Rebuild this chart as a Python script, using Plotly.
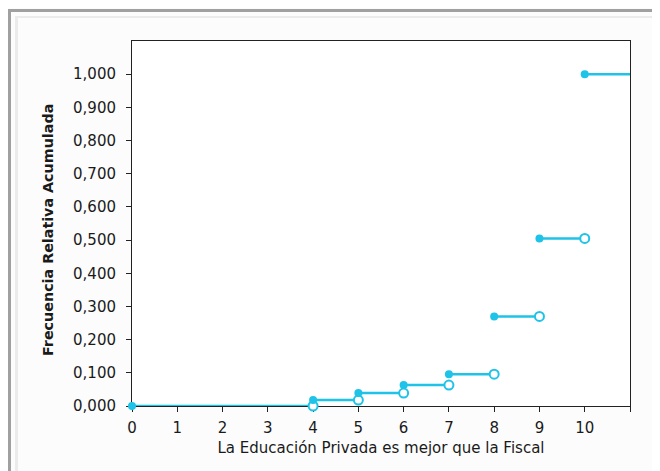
import plotly.graph_objects as go

# ---- data ----
x_values = [0, 4, 5, 6, 7, 8, 9, 10]
cum_freq = [0.000, 0.018, 0.039, 0.063, 0.096, 0.270, 0.505, 1.000]
x_tick_vals = [0, 1, 2, 3, 4, 5, 6, 7, 8, 9, 10, 11]
x_tick_text = ["0", "1", "2", "3", "4", "5", "6", "7", "8", "9", "10", ""]
y_tick_vals = [0.0, 0.1, 0.2, 0.3, 0.4, 0.5, 0.6, 0.7, 0.8, 0.9, 1.0]
x_axis_title = "La Educación Privada es mejor que la Fiscal"
y_axis_title = "Frecuencia Relativa Acumulada"
x_max = 11

CYAN = "#1FC3E7"
FONT = "DejaVu Sans, Verdana, sans-serif"

# step segments
seg_x, seg_y = [], []
ends = x_values[1:] + [x_max]
for x0, x1, y in zip(x_values, ends, cum_freq):
    seg_x += [x0, x1, None]
    seg_y += [y, y, None]

open_x = x_values[1:]
open_y = cum_freq[:-1]

fig = go.Figure()
fig.add_trace(go.Scatter(x=seg_x, y=seg_y, mode="lines",
                         line=dict(color=CYAN, width=2.5),
                         hoverinfo="skip", showlegend=False))
fig.add_trace(go.Scatter(x=open_x, y=open_y, mode="markers",
                         marker=dict(symbol="circle", size=9, color="white",
                                     line=dict(color=CYAN, width=2)),
                         cliponaxis=False, showlegend=False))
fig.add_trace(go.Scatter(x=x_values, y=cum_freq, mode="markers",
                         marker=dict(symbol="circle", size=8, color=CYAN),
                         cliponaxis=False, showlegend=False))

# page has an 8px body margin: the figure starts at (8, 8)
W, H = 652, 463
L, R, T, B = 124, 30, 33, 65
pw, ph = W - L - R, H - T - B

def px(x):
    return (x - L) / pw

def py(y):
    return (H - B - y) / ph

shapes = [
    dict(type="rect", xref="paper", yref="paper", x0=px(0), x1=px(3), y0=py(H), y1=py(1),
         fillcolor="#A0A0A0", line=dict(width=0), layer="below"),
    dict(type="rect", xref="paper", yref="paper", x0=px(0), x1=px(W), y0=py(4), y1=py(1),
         fillcolor="#A0A0A0", line=dict(width=0), layer="below"),
    dict(type="rect", xref="paper", yref="paper", x0=px(7), x1=px(10), y0=py(H), y1=py(8),
         fillcolor="#EBEBEB", line=dict(width=0), layer="below"),
    dict(type="rect", xref="paper", yref="paper", x0=px(7), x1=px(W), y0=py(10), y1=py(8),
         fillcolor="#EBEBEB", line=dict(width=0), layer="below"),
]

fig.update_layout(
    width=W, height=H,
    margin=dict(l=L, r=R, t=T, b=B),
    paper_bgcolor="#FCFCFC",
    plot_bgcolor="white",
    separators=",.",
    font=dict(family=FONT, size=15, color="#1a1a1a"),
    shapes=shapes,
    annotations=[dict(text="<b>" + y_axis_title + "</b>", textangle=-90,
                      xref="paper", yref="paper", x=px(40), y=py(222),
                      xanchor="center", yanchor="middle", showarrow=False,
                      font=dict(size=14.3, color="#1a1a1a"))],
    xaxis=dict(range=[0, x_max], tickvals=x_tick_vals, ticktext=x_tick_text,
               showline=True, linecolor="#222", linewidth=1, mirror=True,
               ticks="outside", ticklen=5, tickcolor="#222",
               showgrid=False, zeroline=False, layer="below traces",
               tickfont=dict(size=15), ticklabelstandoff=3,
               title=dict(text=x_axis_title, font=dict(size=15), standoff=6)),
    yaxis=dict(range=[0, 1.1], tickvals=y_tick_vals, tickformat=".3f",
               showline=True, linecolor="#222", linewidth=1, mirror=True,
               ticks="outside", ticklen=5, tickcolor="#222",
               showgrid=False, zeroline=False, layer="below traces",
               tickfont=dict(size=15), ticklabelstandoff=7),
)

fig.write_html("out.html")
